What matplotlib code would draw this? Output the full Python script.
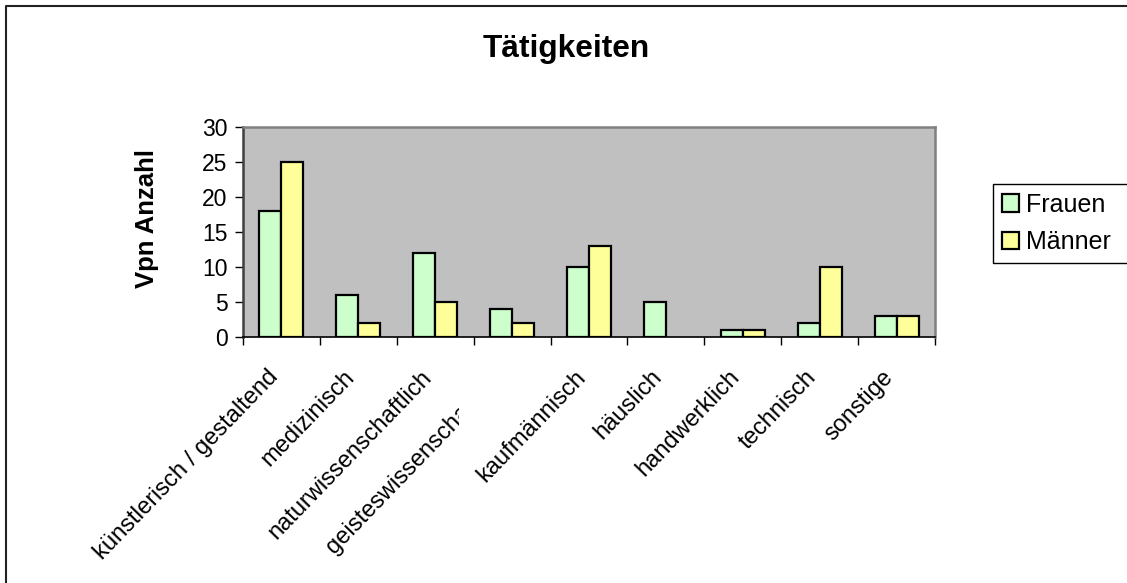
# Tätigkeiten chart, Excel look: grey plot area, green / yellow bars
import numpy as np
import matplotlib
matplotlib.use("Agg")
import matplotlib.pyplot as plt
from matplotlib.lines import Line2D
from matplotlib.patches import Rectangle
from matplotlib.transforms import ScaledTranslation

plt.rcParams['font.family'] = ['Liberation Sans', 'DejaVu Sans']

# data
categories = ["künstlerisch / gestaltend", "medizinisch", "naturwissenschaftlich",
              "geisteswissenschaftlich", "kaufmännisch", "häuslich",
              "handwerklich", "technisch", "sonstige"]
frauen = [18, 6, 12, 4, 10, 5, 1, 2, 3]
maenner = [25, 2, 5, 2, 13, 0, 1, 10, 3]
series_names = ["Frauen", "Männer"]
yticks = [0, 5, 10, 15, 20, 25, 30]

W, H = 1127, 583
fig = plt.figure(figsize=(W / 100, H / 100), dpi=100)
ax = fig.add_axes([243 / W, 1 - 337 / H, (935 - 243) / W, (337 - 127) / H])
ax.set_facecolor('#C0C0C0')

n = len(categories)
x = np.arange(n) + 0.5
bw = 1 / 3.5  # gap width 150%
b1 = ax.bar(x - bw / 2, frauen, bw, color='#CCFFCC', edgecolor='black', linewidth=1.6,
            label=series_names[0])
b2 = ax.bar(x + bw / 2, maenner, bw, color='#FFFF99', edgecolor='black', linewidth=1.6,
            label=series_names[1])
# empty bars are not drawn in Excel
for p in list(b1) + list(b2):
    if p.get_height() == 0:
        p.set_visible(False)

ax.set_xlim(0, n)
ax.set_ylim(0, 30)
ax.set_yticks(yticks)
ax.tick_params(axis='y', direction='out', length=6, width=1, pad=5, labelsize=16.5)

# ticks on category borders, labels at centres
ax.set_xticks(np.arange(n + 1))
ax.set_xticklabels([])
ax.tick_params(axis='x', which='major', direction='out', length=6, width=1)
ax.set_xticks(x, minor=True)
ax.set_xticklabels(categories, minor=True, rotation=46, ha='right', va='top',
                   rotation_mode='anchor', fontsize=17)
ax.tick_params(axis='x', which='minor', length=0, pad=21)

clip = Rectangle((0, 0), 459, H, transform=None)
for i, lab in enumerate(ax.get_xticklabels(minor=True)):
    dx = -15 if i != 3 else -19
    lab.set_transform(lab.get_transform() + ScaledTranslation(dx / 100, 0, fig.dpi_scale_trans))
    if i == 3:
        # label cut off like in the original
        lab.set_clip_on(True)
        lab.set_clip_path(clip)

for s in ['top', 'right']:
    ax.spines[s].set_color('#808080')
    ax.spines[s].set_linewidth(1.8)
ax.spines['left'].set_color('#404040')
ax.spines['left'].set_linewidth(1.8)
ax.spines['bottom'].set_color('black')
ax.spines['bottom'].set_linewidth(1.2)

fig.text(566.5 / W, 1 - 57 / H, "Tätigkeiten", ha='center', va='baseline',
         fontsize=22.8, fontweight='bold')
fig.text(147 / W, 1 - 219 / H, "Vpn Anzahl", ha='center', va='center',
         rotation=90, fontsize=18.5, fontweight='bold')

leg = fig.legend(loc='upper left', bbox_to_anchor=(993 / W, 1 - 184 / H),
                 fontsize=18, frameon=False,
                 borderaxespad=0, borderpad=0.35, handlelength=0.68, handleheight=0.68,
                 handletextpad=0.3, labelspacing=0.55)

# legend box runs off the right edge: draw only top, left, bottom
lx0, ly0, ly1 = 993 / W, 1 - 263 / H, 1 - 184 / H
fig.add_artist(Line2D([1.01, lx0, lx0, 1.01], [ly1, ly1, ly0, ly0],
                      transform=fig.transFigure, color='black', linewidth=1))

# outer chart border (only left / top visible)
fig.add_artist(Line2D([6 / W, 6 / W, 1.01], [-0.01, 1 - 6 / H, 1 - 6 / H],
                      transform=fig.transFigure, color='#222222', linewidth=1.5))

fig.savefig("out.png", dpi=100)
